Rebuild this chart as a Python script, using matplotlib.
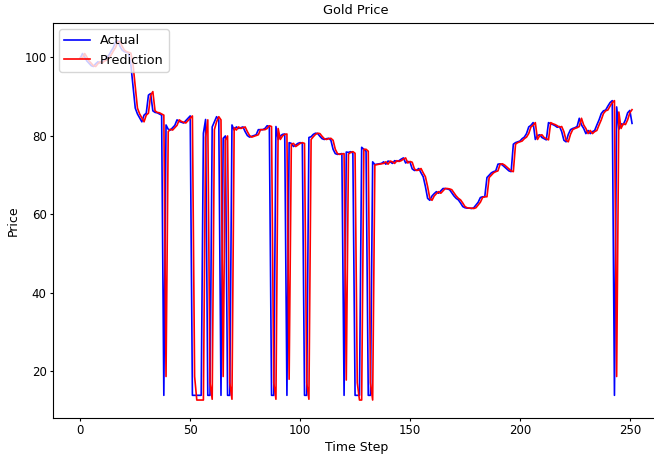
import matplotlib
matplotlib.use("Agg")
import matplotlib.pyplot as plt

# actual gold price per time step
actual = [
    99.7, 100.9, 100.0, 99.0, 98.4, 97.8, 97.6, 98.3, 98.8, 98.5,
    99.0, 99.2, 99.8, 100.5, 101.5, 102.4, 103.8, 104.2, 102.8, 101.8,
    101.4, 101.2, 101.0, 98.0, 92.5, 87.0, 85.5, 84.5, 83.5, 85.2,
    85.7, 90.3, 90.7, 86.3, 85.9, 85.8, 85.5, 85.2, 13.8, 82.7,
    81.6, 81.4, 82.0, 82.6, 84.0, 83.6, 83.4, 83.2, 83.8, 84.4,
    85.0, 13.8, 13.8, 13.8, 13.8, 13.8, 80.6, 84.1, 13.8, 13.8,
    82.2, 83.5, 84.8, 84.0, 13.8, 79.3, 79.9, 13.8, 13.8, 82.7,
    81.4, 82.2, 81.8, 82.0, 82.2, 81.0, 80.0, 79.6, 79.8, 80.0,
    80.2, 81.5, 81.5, 81.5, 81.8, 82.5, 82.3, 13.8, 13.8, 82.3,
    79.0, 79.9, 80.3, 80.4, 13.8, 78.2, 78.0, 77.2, 77.6, 78.0,
    78.2, 78.0, 13.8, 13.8, 79.5, 79.7, 80.3, 80.6, 80.5, 79.8,
    79.2, 79.0, 79.2, 79.3, 78.8, 76.5, 75.4, 75.2, 75.3, 75.4,
    13.8, 75.8, 75.7, 75.9, 75.5, 13.8, 13.8, 13.8, 77.0, 76.5,
    76.0, 13.8, 13.8, 73.3, 72.6, 72.7, 72.8, 72.9, 73.3, 72.7,
    73.5, 73.3, 72.9, 73.6, 73.4, 73.6, 74.0, 74.3, 73.0, 73.4,
    73.2, 71.5, 71.1, 71.2, 71.6, 70.5, 69.5, 67.0, 64.0, 63.5,
    64.6, 65.2, 65.7, 65.3, 65.9, 66.5, 66.5, 66.4, 66.2, 65.4,
    64.6, 64.0, 63.6, 62.8, 61.9, 61.6, 61.5, 61.5, 61.4, 61.6,
    62.3, 63.0, 64.2, 64.4, 64.4, 69.3, 69.9, 70.5, 70.8, 71.0,
    72.7, 72.8, 72.5, 72.0, 71.5, 71.0, 70.8, 77.8, 78.2, 78.4,
    78.6, 79.2, 79.6, 80.5, 82.2, 82.6, 83.3, 79.0, 80.0, 80.2,
    79.5, 79.2, 78.9, 83.3, 83.0, 82.8, 82.5, 82.1, 82.3, 81.0,
    78.8, 78.4, 80.3, 81.5, 81.8, 82.0, 82.3, 84.4, 82.7, 81.8,
    80.5, 81.3, 80.5, 81.0, 81.3, 82.7, 84.0, 85.6, 86.3, 86.5,
    87.5, 88.4, 88.9, 13.8, 87.3, 81.6, 83.0, 82.8, 84.0, 85.8,
    86.4, 83.1,
]

# model prediction per time step
prediction = [
    99.8, 99.7, 100.9, 100.0, 99.0, 98.4, 97.8, 97.6, 98.3, 98.8,
    98.5, 99.0, 99.2, 99.8, 100.5, 101.5, 102.4, 103.8, 104.0, 102.8,
    101.8, 101.4, 101.2, 101.0, 98.0, 92.5, 87.0, 85.5, 84.5, 83.5,
    85.2, 85.7, 90.3, 91.2, 86.3, 85.9, 85.8, 85.5, 85.2, 18.6,
    81.0, 81.6, 81.4, 82.0, 82.6, 84.0, 83.6, 83.4, 83.2, 83.8,
    84.4, 85.0, 18.6, 12.6, 12.6, 12.6, 12.6, 79.5, 84.0, 17.0,
    12.8, 81.5, 83.5, 84.8, 84.0, 18.6, 78.8, 79.9, 17.0, 12.8,
    82.0, 81.4, 82.2, 81.8, 82.0, 82.2, 81.0, 80.0, 79.6, 79.8,
    80.0, 80.2, 81.5, 81.5, 81.5, 81.8, 82.5, 82.3, 17.0, 12.8,
    81.8, 79.0, 79.9, 80.3, 80.4, 17.9, 77.8, 78.0, 77.2, 77.6,
    78.0, 78.2, 78.0, 17.0, 12.8, 79.0, 79.7, 80.3, 80.6, 80.5,
    79.8, 79.2, 79.0, 79.2, 79.3, 78.8, 76.5, 75.4, 75.2, 75.3,
    75.4, 17.7, 75.3, 75.7, 75.9, 75.5, 17.0, 12.6, 12.6, 76.5,
    76.5, 76.0, 17.0, 12.6, 72.5, 72.6, 72.7, 72.8, 72.9, 73.3,
    72.7, 73.5, 73.3, 72.9, 73.6, 73.4, 73.6, 74.0, 74.3, 73.0,
    73.4, 73.2, 71.5, 71.1, 71.2, 71.6, 70.5, 69.5, 67.0, 64.0,
    63.5, 64.6, 65.2, 65.7, 65.3, 65.9, 66.5, 66.5, 66.4, 66.2,
    65.4, 64.6, 64.0, 63.6, 62.8, 61.9, 61.6, 61.5, 61.5, 61.4,
    61.6, 62.3, 63.0, 64.2, 64.4, 64.4, 69.3, 69.9, 70.5, 70.8,
    71.0, 72.7, 72.8, 72.5, 72.0, 71.5, 71.0, 70.8, 77.8, 78.2,
    78.4, 78.6, 79.2, 79.6, 80.5, 82.2, 82.6, 83.3, 79.0, 80.0,
    80.2, 79.5, 79.2, 78.9, 83.3, 83.0, 82.8, 82.5, 82.1, 82.3,
    81.0, 78.8, 78.4, 80.3, 81.5, 81.8, 82.0, 82.3, 84.4, 82.7,
    81.8, 80.5, 81.3, 80.5, 81.0, 81.3, 82.7, 84.0, 85.6, 86.3,
    86.5, 87.5, 88.4, 88.9, 18.6, 86.0, 81.8, 83.0, 82.8, 84.0,
    85.8, 86.6,
]

time_step = list(range(len(actual)))

fig = plt.figure(figsize=(6.54, 4.55), dpi=100)
# the original screenshot cuts the axes off on the right
ax = fig.add_axes([0.0806, 0.0813, 0.928, 0.869])

ax.plot(time_step, actual, color="blue", linewidth=1.2, label="Actual")
ax.plot(time_step, prediction, color="red", linewidth=1.2, label="Prediction")

ax.set_title("Gold Price", fontsize=9.3)
ax.set_xlabel("Time Step", fontsize=9, labelpad=3)
ax.set_ylabel("Price", fontsize=9, labelpad=3.5)
ax.tick_params(labelsize=8.5, length=2, pad=2.4)
ax.set_xticks([0, 50, 100, 150, 200, 250])
ax.set_yticks([20, 40, 60, 80, 100])
ax.legend(loc="upper left", fontsize=9.2)

fig.savefig("out.png", dpi=100)
